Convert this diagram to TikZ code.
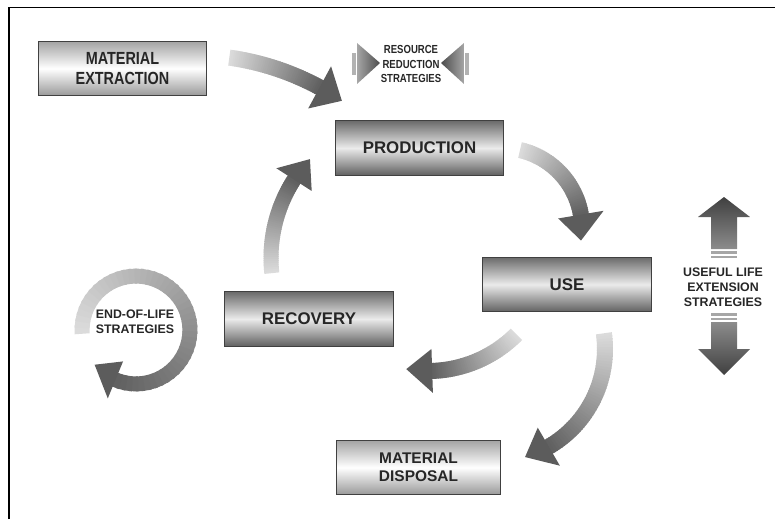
\documentclass[tikz,border=0pt]{standalone}
\usepackage{fontspec}
\setmainfont{Liberation Sans}
\newfontfamily\narrowsans[FakeStretch=0.82]{Liberation Sans}
\usetikzlibrary{calc}

% fat curved arrow: centre, radius, start angle, end angle, band width, head width
\newcommand\bentarrow[6]{%
  \pgfmathsetmacro\hang{(#4>#3 ? 1 : -1)*26/#2*57.2958}
  \pgfmathsetmacro\hbase{#4-\hang}
  \pgfmathsetmacro\ro{#2+#5/2}
  \pgfmathsetmacro\ri{#2-#5/2}
  \pgfmathsetmacro\ho{#2+#6/2}
  \pgfmathsetmacro\hi{#2-#6/2}
  \foreach \i in {0,...,47}{
    \pgfmathsetmacro\angA{#3+(\hbase-#3)*\i/48}
    \pgfmathsetmacro\angB{#3+(\hbase-#3)*(\i+1.4)/48}
    \pgfmathsetmacro\tone{14+48*\i/47}
    \fill[black!\tone, shift={(#1)}] (\angA:\ro) -- (\angB:\ro) -- (\angB:\ri) -- (\angA:\ri) -- cycle;
  }
  \fill[black!64, shift={(#1)}] (\hbase:\ho) -- (#4:#2) -- (\hbase:\hi) -- cycle;
}

\begin{document}
\begin{tikzpicture}[x=0.025cm, y=-0.025cm,
    box/.style={draw=black!75, line width=0.8pt, minimum width=4.22cm,
                minimum height=1.36cm, align=center, text=black!85,
                font=\bfseries\fontsize{12}{14}\selectfont,
                top color=black!58, bottom color=black!62, middle color=black!8},
    endbox/.style={box, top color=black!36, bottom color=black!40, middle color=white,
                   font=\bfseries\fontsize{11}{13}\selectfont},
    strategy/.style={align=center, text=black!85, font=\bfseries\fontsize{8.8}{10.6}\selectfont}]
  \useasboundingbox (0,0) rectangle (775,519);
  \draw[line width=1pt] (9,519) -- (9,7.5) -- (775,7.5);

  \node[endbox, font=\bfseries\narrowsans\fontsize{12.5}{14}\selectfont] (extraction) at (122.5,68.5) {MATERIAL\\EXTRACTION};
  \node[box]    (production) at (419.5,148) {PRODUCTION};
  \node[box]    (use)        at (567,284.5) {USE};
  \node[box]    (recovery)   at (309,319)   {RECOVERY};
  \node[endbox, minimum width=4.08cm] (disposal) at (418.5,467.5) {MATERIAL\\DISPOSAL};

  % flow arrows
  \bentarrow{192,323}{268}{-82}{-56}{16}{48}
  \bentarrow{502,228}{80}{-77}{9}{16}{46}
  \bentarrow{428,246}{125}{45}{100}{16}{44}
  \bentarrow{492,349}{113}{-8}{73}{16}{44}
  \bentarrow{416,258}{145}{174}{223}{15}{42}
  \bentarrow{136,330}{54}{176}{500}{15}{40}

  % resource reduction
  \node[strategy, font=\bfseries\narrowsans\fontsize{8.3}{10}\selectfont] (reduction) at (411,64) {RESOURCE\\REDUCTION\\STRATEGIES};
  \fill[black!30] (352,53) rectangle (356,75);
  \shade[left color=black!35, right color=black!70] (357,43) -- (380,63) -- (357,84) -- cycle;
  \fill[black!30] (465,53) rectangle (469,75);
  \shade[left color=black!70, right color=black!35] (464,43) -- (441,63) -- (464,84) -- cycle;

  % useful life extension
  \node[strategy] (extension) at (723,287) {USEFUL LIFE\\EXTENSION\\STRATEGIES};
  \shade[top color=black!75, bottom color=black!45]
    (724,197) -- (750,217) -- (737,217) -- (737,249) -- (711,249) -- (711,217) -- (698,217) -- cycle;
  \fill[black!35] (711,251) rectangle (737,253.5);
  \fill[black!35] (711,255.5) rectangle (737,258);
  \fill[black!35] (711,313) rectangle (737,315.5);
  \fill[black!35] (711,317.5) rectangle (737,320);
  \shade[top color=black!45, bottom color=black!75]
    (724,375) -- (750,349) -- (737,349) -- (737,322) -- (711,322) -- (711,349) -- (698,349) -- cycle;

  \node[strategy] (endoflife) at (135,322) {END-OF-LIFE\\STRATEGIES};
\end{tikzpicture}
\end{document}
